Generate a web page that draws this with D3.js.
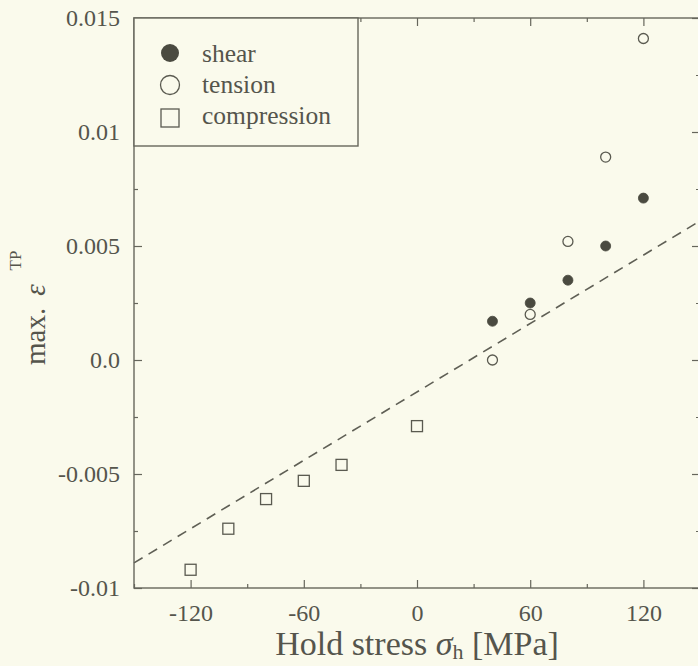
<!DOCTYPE html>
<html>
<head>
<meta charset="utf-8">
<title>max strain vs hold stress</title>
<script src="https://d3js.org/d3.v7.min.js"></script>
<style>
  body { margin: 0; background: #fafaec; }
  svg { display: block; }
  text { font-family: "Liberation Serif", "DejaVu Serif", serif; fill: #55554c; }
  .axis path { display: none; }
  .axis line { stroke: #66665c; stroke-width: 1.2; }
</style>
</head>
<body>
<script>
// data
const shearX = [40, 60, 80, 100, 120];
const shearY = [0.0017, 0.0025, 0.0035, 0.0050, 0.0071];
const tensionX = [40, 60, 80, 100, 120];
const tensionY = [0.0000, 0.0020, 0.0052, 0.0089, 0.0141];
const compX = [-120, -100, -80, -60, -40, 0];
const compY = [-0.0092, -0.0074, -0.0061, -0.0053, -0.0046, -0.0029];
const fitX = [-150, 150];
const fitY = [-0.0089, 0.0061];

const xTicks = [-120, -60, 0, 60, 120];
const xTickLabels = ["-120", "-60", "0", "60", "120"];
const xMinor = [-150, -90, -30, 30, 90, 150];
const yTicks = [0.015, 0.01, 0.005, 0, -0.005, -0.01];
const yTickLabels = ["0.015", "0.01", "0.005", "0.0", "-0.005", "-0.01"];
const yMinor = [0.0125, 0.0075, 0.0025, -0.0025, -0.0075];
const legendNames = ["shear", "tension", "compression"];

const W = 698, H = 666;
const pLeft = 134, pRight = 700, pTop = 18, pBottom = 588;
const ink = "#55554c", dot = "#4a4a40";

const svg = d3.select("body").append("svg").attr("width", W).attr("height", H);

const x = d3.scaleLinear().domain([-150, 150]).range([pLeft, pRight]);
const y = d3.scaleLinear().domain([-0.01, 0.015]).range([pBottom, pTop]);

// dashed fit line
svg.append("path")
  .attr("d", d3.line().x(d => x(d[0])).y(d => y(d[1]))(d3.zip(fitX, fitY)))
  .attr("fill", "none").attr("stroke", "#5f5f55").attr("stroke-width", 1.6)
  .attr("stroke-dasharray", "10,7");

// axes (ticks inward)
const fmtX = d => xTickLabels[xTicks.indexOf(d)];
const fmtY = d => yTickLabels[yTicks.indexOf(d)];
const styleTicks = g => g.selectAll("text").attr("font-size", 24).attr("fill", ink)
  .attr("font-family", "Liberation Serif");

svg.append("g").attr("class", "axis").attr("transform", `translate(0,${pBottom})`)
  .call(d3.axisBottom(x).tickValues(xTicks).tickSize(-8).tickPadding(16).tickFormat(fmtX))
  .call(styleTicks);
svg.append("g").attr("class", "axis").attr("transform", `translate(0,${pBottom})`)
  .call(d3.axisBottom(x).tickValues(xMinor).tickSize(-4).tickFormat(""));
svg.append("g").attr("class", "axis").attr("transform", `translate(0,${pTop})`)
  .call(d3.axisTop(x).tickValues(xTicks).tickSize(-8).tickFormat(""));
svg.append("g").attr("class", "axis").attr("transform", `translate(0,${pTop})`)
  .call(d3.axisTop(x).tickValues(xMinor).tickSize(-4).tickFormat(""));

svg.append("g").attr("class", "axis").attr("transform", `translate(${pLeft},0)`)
  .call(d3.axisLeft(y).tickValues(yTicks).tickSize(-8).tickPadding(14).tickFormat(fmtY))
  .call(styleTicks);
svg.append("g").attr("class", "axis").attr("transform", `translate(${pLeft},0)`)
  .call(d3.axisLeft(y).tickValues(yMinor).tickSize(-4).tickFormat(""));
svg.append("g").attr("class", "axis").attr("transform", `translate(${pRight},0)`)
  .call(d3.axisRight(y).tickValues(yTicks).tickSize(-8).tickFormat(""));
svg.append("g").attr("class", "axis").attr("transform", `translate(${pRight},0)`)
  .call(d3.axisRight(y).tickValues(yMinor).tickSize(-4).tickFormat(""));

// frame
svg.append("rect").attr("x", pLeft).attr("y", pTop)
  .attr("width", pRight - pLeft).attr("height", pBottom - pTop)
  .attr("fill", "none").attr("stroke", "#66665c").attr("stroke-width", 1.4);

// points
svg.selectAll(".shear").data(d3.zip(shearX, shearY)).join("circle")
  .attr("cx", d => x(d[0])).attr("cy", d => y(d[1])).attr("r", 5)
  .attr("fill", dot).attr("stroke", dot).attr("stroke-width", 0.8);
svg.selectAll(".tension").data(d3.zip(tensionX, tensionY)).join("circle")
  .attr("cx", d => x(d[0])).attr("cy", d => y(d[1])).attr("r", 5)
  .attr("fill", "none").attr("stroke", "#5a5a50").attr("stroke-width", 1.3);
svg.selectAll(".comp").data(d3.zip(compX, compY)).join("rect")
  .attr("x", d => x(d[0]) - 5.5).attr("y", d => y(d[1]) - 5.5)
  .attr("width", 11).attr("height", 11)
  .attr("fill", "none").attr("stroke", "#5a5a50").attr("stroke-width", 1.3);

// legend box
const lg = svg.append("g");
lg.append("rect").attr("x", pLeft).attr("y", pTop).attr("width", 224).attr("height", 128)
  .attr("fill", "#fafaec").attr("stroke", "#66665c").attr("stroke-width", 1.4);
const rowY = [53, 85, 118];
lg.append("circle").attr("cx", 170).attr("cy", rowY[0]).attr("r", 9).attr("fill", dot);
lg.append("circle").attr("cx", 170).attr("cy", rowY[1]).attr("r", 9.5)
  .attr("fill", "none").attr("stroke", "#5a5a50").attr("stroke-width", 1.3);
lg.append("rect").attr("x", 161).attr("y", rowY[2] - 9).attr("width", 18).attr("height", 18)
  .attr("fill", "none").attr("stroke", "#5a5a50").attr("stroke-width", 1.3);
lg.selectAll("text").data(legendNames).join("text")
  .attr("x", 202).attr("y", (d, i) => [62, 93, 124][i])
  .attr("font-size", 25.5).text(d => d);

// axis titles
const xt = svg.append("text").attr("x", 417).attr("y", 655)
  .attr("text-anchor", "middle").attr("font-size", 34);
xt.append("tspan").text("Hold stress ");
xt.append("tspan").attr("font-style", "italic").text("σ");
xt.append("tspan").attr("font-size", 22).attr("dy", 4).text("h");
xt.append("tspan").attr("dy", -4).text(" [MPa]");

const yt = svg.append("text").attr("transform", "translate(45,365) rotate(-90)")
  .attr("font-size", 29);
yt.append("tspan").text("max.");
yt.append("tspan").attr("font-style", "italic").attr("dx", 12).text("ε");
yt.append("tspan").attr("font-size", 17).attr("dx", 14).attr("dy", -24).text("TP");
</script>
</body>
</html>
